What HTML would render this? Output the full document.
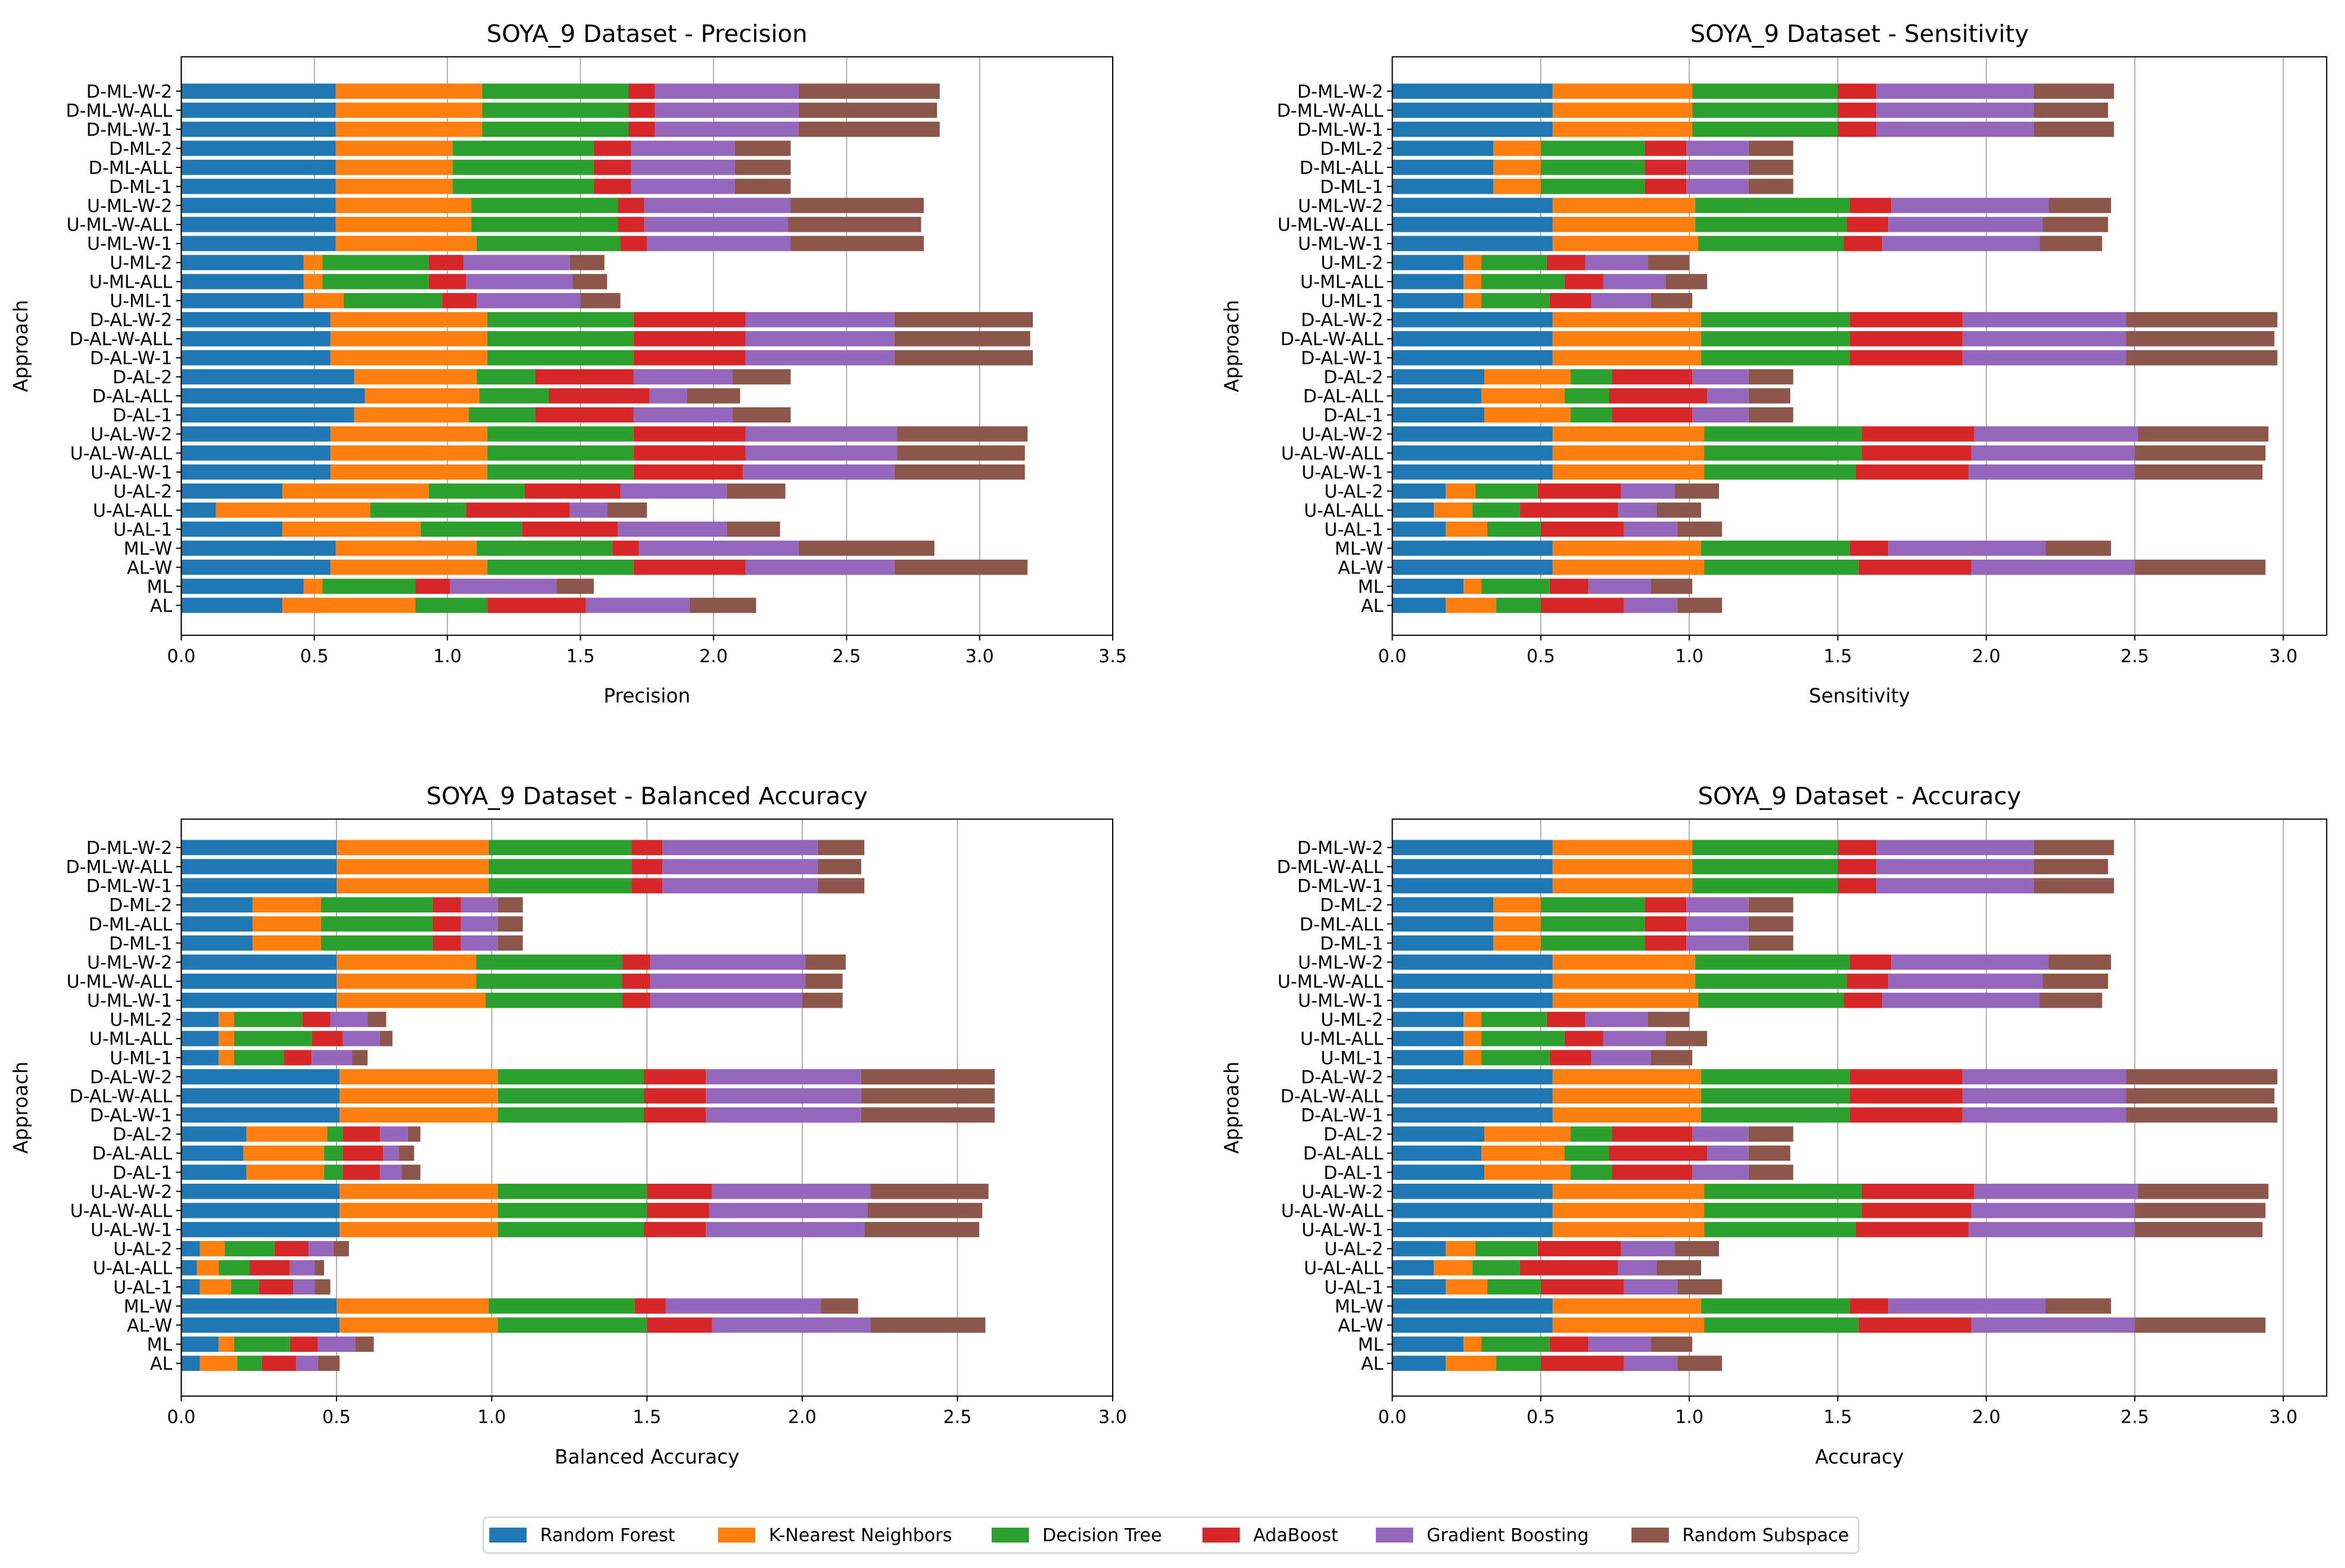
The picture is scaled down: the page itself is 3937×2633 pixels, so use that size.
<!DOCTYPE html>
<html><head><meta charset="utf-8"><style>
html,body{margin:0;padding:0;background:#fff}
svg{display:block}
text{font-family:"DejaVu Sans","Liberation Sans",sans-serif;fill:#000}
</style></head><body>
<svg id="fig" width="3937" height="2633" viewBox="0 0 1568 1049" xmlns="http://www.w3.org/2000/svg"></svg>
<script>
const categories=["D-ML-W-2","D-ML-W-ALL","D-ML-W-1","D-ML-2","D-ML-ALL","D-ML-1","U-ML-W-2","U-ML-W-ALL","U-ML-W-1","U-ML-2","U-ML-ALL","U-ML-1","D-AL-W-2","D-AL-W-ALL","D-AL-W-1","D-AL-2","D-AL-ALL","D-AL-1","U-AL-W-2","U-AL-W-ALL","U-AL-W-1","U-AL-2","U-AL-ALL","U-AL-1","ML-W","AL-W","ML","AL"];
const seriesNames=["Random Forest","K-Nearest Neighbors","Decision Tree","AdaBoost","Gradient Boosting","Random Subspace"];
const colors=["#1f77b4","#ff7f0e","#2ca02c","#d62728","#9467bd","#8c564b"];
// Precision
const precRF=[.58,.58,.58,.58,.58,.58,.58,.58,.58,.46,.46,.46,.56,.56,.56,.65,.69,.65,.56,.56,.56,.38,.13,.38,.58,.56,.46,.38];
const precKNN=[.55,.55,.55,.44,.44,.44,.51,.51,.53,.07,.07,.15,.59,.59,.59,.46,.43,.43,.59,.59,.59,.55,.58,.52,.53,.59,.07,.50];
const precDT=[.55,.55,.55,.53,.53,.53,.55,.55,.54,.40,.40,.37,.55,.55,.55,.22,.26,.25,.55,.55,.55,.36,.36,.38,.51,.55,.35,.27];
const precADA=[.10,.10,.10,.14,.14,.14,.10,.10,.10,.13,.14,.13,.42,.42,.42,.37,.38,.37,.42,.42,.41,.36,.39,.36,.10,.42,.13,.37];
const precGB=[.54,.54,.54,.39,.39,.39,.55,.54,.54,.40,.40,.39,.56,.56,.56,.37,.14,.37,.57,.57,.57,.40,.14,.41,.60,.56,.40,.39];
const precRS=[.53,.52,.53,.21,.21,.21,.50,.50,.50,.13,.13,.15,.52,.51,.52,.22,.20,.22,.49,.48,.49,.22,.15,.20,.51,.50,.14,.25];
// Sensitivity (Accuracy identical)
const sensRF=[.54,.54,.54,.34,.34,.34,.54,.54,.54,.24,.24,.24,.54,.54,.54,.31,.30,.31,.54,.54,.54,.18,.14,.18,.54,.54,.24,.18];
const sensKNN=[.47,.47,.47,.16,.16,.16,.48,.48,.49,.06,.06,.06,.50,.50,.50,.29,.28,.29,.51,.51,.51,.10,.13,.14,.50,.51,.06,.17];
const sensDT=[.49,.49,.49,.35,.35,.35,.52,.51,.49,.22,.28,.23,.50,.50,.50,.14,.15,.14,.53,.53,.51,.21,.16,.18,.50,.52,.23,.15];
const sensADA=[.13,.13,.13,.14,.14,.14,.14,.14,.13,.13,.13,.14,.38,.38,.38,.27,.33,.27,.38,.37,.38,.28,.33,.28,.13,.38,.13,.28];
const sensGB=[.53,.53,.53,.21,.21,.21,.53,.52,.53,.21,.21,.20,.55,.55,.55,.19,.14,.19,.55,.55,.56,.18,.13,.18,.53,.55,.21,.18];
const sensRS=[.27,.25,.27,.15,.15,.15,.21,.22,.21,.14,.14,.14,.51,.50,.51,.15,.14,.15,.44,.44,.43,.15,.15,.15,.22,.44,.14,.15];
// Balanced accuracy
const balRF=[.50,.50,.50,.23,.23,.23,.50,.50,.50,.12,.12,.12,.51,.51,.51,.21,.20,.21,.51,.51,.51,.06,.05,.06,.50,.51,.12,.06];
const balKNN=[.49,.49,.49,.22,.22,.22,.45,.45,.48,.05,.05,.05,.51,.51,.51,.26,.26,.25,.51,.51,.51,.08,.07,.10,.49,.51,.05,.12];
const balDT=[.46,.46,.46,.36,.36,.36,.47,.47,.44,.22,.25,.16,.47,.47,.47,.05,.06,.06,.48,.48,.47,.16,.10,.09,.47,.48,.18,.08];
const balADA=[.10,.10,.10,.09,.09,.09,.09,.09,.09,.09,.10,.09,.20,.20,.20,.12,.13,.12,.21,.20,.20,.11,.13,.11,.10,.21,.09,.11];
const balGB=[.50,.50,.50,.12,.12,.12,.50,.50,.49,.12,.12,.13,.50,.50,.50,.09,.05,.07,.51,.51,.51,.08,.08,.07,.50,.51,.12,.07];
const balRS=[.15,.14,.15,.08,.08,.08,.13,.12,.13,.06,.04,.05,.43,.43,.43,.04,.05,.06,.38,.37,.37,.05,.03,.05,.12,.37,.06,.07];
const xTicksA=[0,0.5,1,1.5,2,2.5,3,3.5];
const xTicksB=[0,0.5,1,1.5,2,2.5,3];

const NS="http://www.w3.org/2000/svg";
const svg=document.getElementById('fig');
function mk(tag,attrs,parent){const e=document.createElementNS(NS,tag);for(const k in attrs)e.setAttribute(k,attrs[k]);(parent||svg).appendChild(e);return e;}

const panels=[
 {key:'precision',title:'SOYA_9 Dataset - Precision',xlabel:'Precision',x0:121,x1:744,xmax:3.5,top:38,bottom:425,c0:61,step:12.74,ticks:xTicksA,data:[precRF,precKNN,precDT,precADA,precGB,precRS]},
 {key:'sensitivity',title:'SOYA_9 Dataset - Sensitivity',xlabel:'Sensitivity',x0:931,x1:1556,xmax:3.146,top:38,bottom:425,c0:61,step:12.74,ticks:xTicksB,data:[sensRF,sensKNN,sensDT,sensADA,sensGB,sensRS]},
 {key:'balanced-accuracy',title:'SOYA_9 Dataset - Balanced Accuracy',xlabel:'Balanced Accuracy',x0:121,x1:744,xmax:3.0,top:548,bottom:934,c0:567,step:12.78,ticks:xTicksB,data:[balRF,balKNN,balDT,balADA,balGB,balRS]},
 {key:'accuracy',title:'SOYA_9 Dataset - Accuracy',xlabel:'Accuracy',x0:931,x1:1556,xmax:3.146,top:548,bottom:934,c0:567,step:12.78,ticks:xTicksB,data:[sensRF,sensKNN,sensDT,sensADA,sensGB,sensRS]}
];

panels.forEach(p=>{
  const g=mk('g',{});
  
  
  const xs=v=>p.x0+(v/p.xmax)*(p.x1-p.x0);
  const ys=i=>p.c0+i*p.step;
  p.ticks.forEach(t=>{
    const l=mk('line',{x1:xs(t),x2:xs(t),y1:p.top,y2:p.bottom,stroke:'#b0b0b0','stroke-width':0.8},g);
    
    
  });
  const bh=p.step*0.8;
  categories.forEach((c,i)=>{
    let cum=0;
    p.data.forEach((arr,s)=>{
      const v=arr[i];
      const r=mk('rect',{x:xs(cum),y:ys(i)-bh/2,width:Math.max(0,xs(cum+v)-xs(cum)),height:bh,fill:colors[s]},g);
      
      
      cum+=v;
    });
    const tk=mk('line',{x1:p.x0-3.5,x2:p.x0,y1:ys(i),y2:ys(i),stroke:'#000','stroke-width':0.8},g);
    
    
    const tl=mk('text',{x:p.x0-6,y:ys(i)+4.3,'font-size':12,'text-anchor':'end'},g);
    tl.textContent=c;
    
    
  });
  const fr=mk('rect',{x:p.x0,y:p.top,width:p.x1-p.x0,height:p.bottom-p.top,fill:'none',stroke:'#000','stroke-width':0.8},g);
  
  
  p.ticks.forEach(t=>{
    const l=mk('line',{x1:xs(t),x2:xs(t),y1:p.bottom,y2:p.bottom+3.5,stroke:'#000','stroke-width':0.8},g);
    
    
    const tx=mk('text',{x:xs(t),y:p.bottom+18,'font-size':12,'text-anchor':'middle'},g);
    tx.textContent=t.toFixed(1);
    
    
  });
  const ti=mk('text',{x:(p.x0+p.x1)/2,y:p.top-10,'font-size':16,'text-anchor':'middle'},g);
  ti.textContent=p.title;
  
  
  const xl=mk('text',{x:(p.x0+p.x1)/2,y:p.bottom+45,'font-size':13,'text-anchor':'middle'},g);
  xl.textContent=p.xlabel;
  
  
  const cy=(p.top+p.bottom)/2, cx=p.x0-103;
  const yl=mk('text',{x:cx,y:cy,'font-size':13,'text-anchor':'middle',transform:`rotate(-90 ${cx} ${cy})`},g);
  yl.textContent='Approach';
  
  
});

const lg=mk('g',{});


const lb=mk('rect',{x:323,y:1015,width:920,height:24,rx:3,fill:'#fff',stroke:'#ccc','stroke-width':0.8},lg);


const legX=[327,480,663,804,920,1091];
seriesNames.forEach((n,s)=>{
  const e=mk('g',{},lg);
  
  
  mk('rect',{x:legX[s],y:1022,width:25,height:10,fill:colors[s]},e);
  const t=mk('text',{x:legX[s]+34,y:1031,'font-size':12},e);
  t.textContent=n;
});
</script>
</body></html>
